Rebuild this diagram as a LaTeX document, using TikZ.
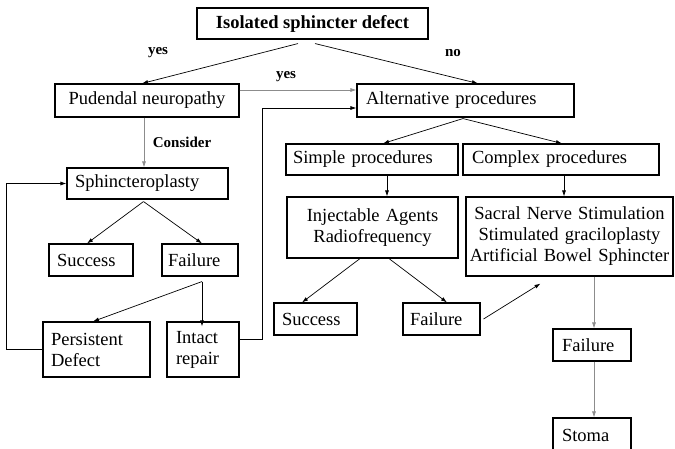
\documentclass[tikz,border=0pt]{standalone}
\usepackage{fontspec}
\setmainfont{Liberation Serif}
\usetikzlibrary{arrows.meta,calc}
\begin{document}
\begin{tikzpicture}[x=1pt,y=-1pt,
  box/.style={draw, line width=1.1pt, inner ysep=0pt, font=\fontsize{18.5}{21}\selectfont},
  lbl/.style={font=\fontsize{15}{17}\selectfont\bfseries},
  conn/.style={line width=0.7pt, -{Latex[length=6pt,width=4pt]}},
  gconn/.style={conn, draw=black!45},
]
\useasboundingbox (0,0) rectangle (675,448);
\clip (0,0) rectangle (675,448);

% boxes
\node[box, minimum width=231pt, minimum height=31pt, font=\fontsize{18.5}{21}\selectfont\bfseries] (iso) at (312.5,23.5) {Isolated sphincter defect};
\node[box, minimum width=184pt, minimum height=33pt] (pud) at (147,100.5) {Pudendal neuropathy};
\node[box, text width=199pt, inner xsep=9pt, align=left, minimum height=33pt] (alt) at (465.5,100.5) {Alternative procedures};
\node[box, text width=145pt, inner xsep=8pt, align=left, minimum height=31pt] (sph) at (147.5,183.5) {Sphincteroplasty};
\node[box, text width=68pt, inner xsep=8pt, align=left, minimum height=32pt] (suc1) at (91,260) {Success};
\node[box, text width=64pt, inner xsep=6pt, align=left, minimum height=32pt] (fail1) at (200,260) {Failure};
\node[box, text width=91pt, inner xsep=8pt, align=left, minimum height=55pt] (pers) at (96.5,349.5) {Persistent\\Defect};
\node[box, text width=54pt, inner xsep=9pt, align=left, minimum height=55pt] (intact) at (203,349.5) {Intact\\repair};
\node[box, text width=158pt, inner xsep=7pt, align=left, minimum height=31pt] (simple) at (372,159.5) {Simple procedures};
\node[box, text width=178pt, inner xsep=9pt, align=left, minimum height=31pt] (complex) at (561,159.5) {Complex procedures};
\node[box, text width=163pt, inner xsep=4pt, align=center, minimum height=61pt] (inj) at (372.5,227.5) {Injectable Agents\\Radiofrequency};
\node[box, text width=201pt, inner xsep=3pt, align=center, minimum height=79pt] (sacral) at (569.5,236.5) {Sacral Nerve Stimulation\\Stimulated graciloplasty\\Artificial Bowel Sphincter};
\node[box, text width=67pt, inner xsep=8pt, align=left, minimum height=32pt] (suc2) at (315.5,319) {Success};
\node[box, text width=63pt, inner xsep=7pt, align=left, minimum height=32pt] (fail2) at (441.5,319) {Failure};
\node[box, text width=60pt, inner xsep=9pt, align=left, minimum height=32pt] (fail3) at (592,345) {Failure};
\node[box, text width=60pt, inner xsep=9pt, align=left, minimum height=34pt] (stoma) at (592,435) {Stoma};

% labels
\node[lbl] (yes1) at (158,53) {yes};
\node[lbl] (no1) at (453,53) {no};
\node[lbl] (yes2) at (286,77) {yes};
\node[lbl] (cons) at (182,142) {Consider};

% connectors
\draw[conn] ([xshift=-14.5pt,yshift=-4pt]iso.south) -- ([xshift=-5pt]pud.north);
\draw[conn] ([xshift=2.5pt,yshift=-4pt]iso.south) -- ([xshift=12.5pt]alt.north);
\draw[gconn] ([yshift=10.5pt]pud.east) -- ([yshift=10.5pt]alt.west);
\draw[gconn] ([xshift=-3pt]pud.south) -- ([xshift=-3pt]pud.south |- sph.north);
\draw[conn] ([xshift=-4pt,yshift=-2pt]sph.south) -- ([xshift=-4pt]suc1.north);
\draw[conn] ([xshift=-4pt,yshift=-2pt]sph.south) -- ([xshift=2pt]fail1.north);
\draw[conn] ([xshift=2pt,yshift=-5pt]fail1.south) -- ([xshift=-3.5pt]pers.north);
\draw[conn] ([xshift=2pt,yshift=-5pt]fail1.south) -- ([xshift=2pt,yshift=-5pt]fail1.south |- intact.north);
\draw[conn] (pers.west) -- ++(-36,0) |- (sph.west);
\draw[conn] ([yshift=10.5pt]intact.east) -- ++(23,0) |- ([yshift=-7.5pt]alt.west);
\draw[conn] ([xshift=-2.5pt,yshift=-1pt]alt.south) -- ([xshift=11pt]simple.north);
\draw[conn] ([xshift=-2.5pt,yshift=-1pt]alt.south) -- ([xshift=1pt]complex.north);
\draw[conn] ([xshift=15pt]simple.south) -- ([xshift=15pt]simple.south |- inj.north);
\draw[conn] ([xshift=3pt]complex.south) -- ([xshift=3pt]complex.south |- sacral.north);
\draw[conn] ([xshift=-12.5pt]inj.south) -- ([xshift=-13.5pt]suc2.north);
\draw[conn] ([xshift=16.5pt]inj.south) -- ([xshift=5.5pt]fail2.north);
\coordinate (fp) at ([xshift=-29pt,yshift=-7pt]sacral.south);
\draw[conn] ([xshift=3pt]fail2.east) -- (fp);
\draw[gconn] ([xshift=24.5pt]sacral.south) -- ([xshift=24.5pt]sacral.south |- fail3.north);
\draw[gconn] ([xshift=2pt]fail3.south) -- ([xshift=2pt]fail3.south |- stoma.north);
\end{tikzpicture}
\end{document}
